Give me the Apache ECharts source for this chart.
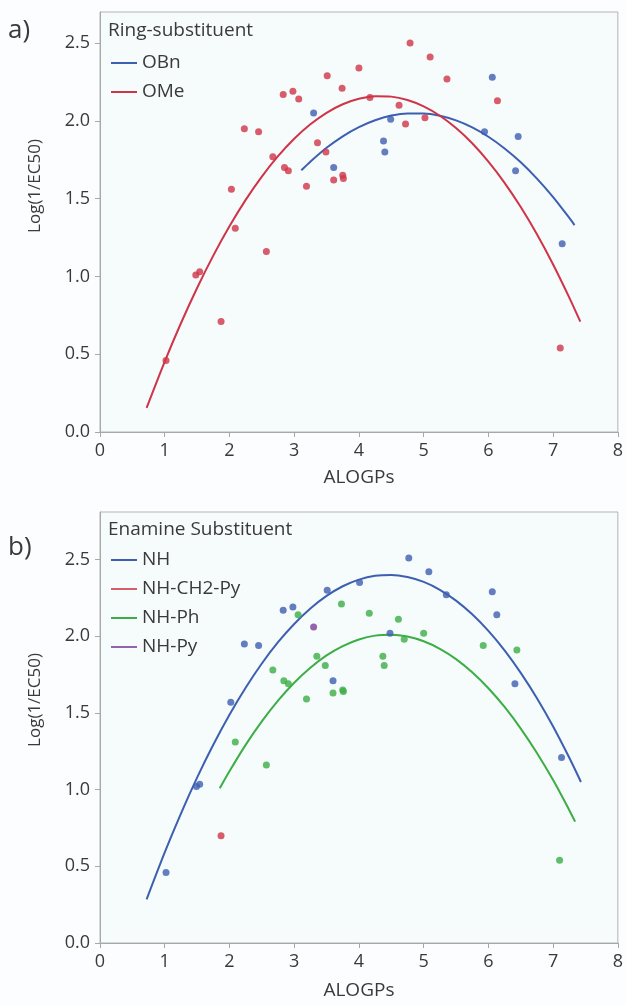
<!DOCTYPE html>
<html>
<head>
<meta charset="utf-8">
<script src="https://cdn.jsdelivr.net/npm/echarts@6/dist/echarts.min.js"></script>
<style>
html, body { margin: 0; padding: 0; background: #fbfdfe; }
#chart { width: 626px; height: 1005px; }
</style>
</head>
<body>
<div id="chart"></div>
<script>
var chart = echarts.init(document.getElementById('chart'));

// x ticks and y ticks shared by both panels
var xTicks = [0, 1, 2, 3, 4, 5, 6, 7, 8];
var yTicks = [0, 0.5, 1, 1.5, 2, 2.5];

// panel a) ring substituent
var obnPoints = [[3.30,2.05],[3.61,1.70],[4.38,1.87],[4.40,1.80],[4.49,2.01],[5.94,1.93],[6.06,2.28],[6.42,1.68],[6.46,1.90],[7.14,1.21]];
var omePoints = [[1.02,0.46],[1.48,1.01],[1.54,1.03],[1.87,0.71],[2.03,1.56],[2.09,1.31],[2.23,1.95],[2.45,1.93],[2.57,1.16],[2.67,1.77],
  [2.83,2.17],[2.85,1.70],[2.91,1.68],[2.98,2.19],[3.07,2.14],[3.19,1.58],[3.36,1.86],[3.49,1.80],[3.51,2.29],[3.61,1.62],
  [3.74,2.21],[3.75,1.65],[3.76,1.63],[4.00,2.34],[4.17,2.15],[4.62,2.10],[4.72,1.98],[4.79,2.50],[5.02,2.02],[5.10,2.41],
  [5.36,2.27],[6.14,2.13],[7.11,0.54]];
// fit curves a) (traced along the drawn curves)
var obnFitX = [3.11, 3.25, 3.5, 3.75, 4, 4.25, 4.5, 4.75, 5, 5.25, 5.5, 5.75, 6, 6.25, 6.5, 6.75, 7, 7.25, 7.33];
var obnFitY = [1.683, 1.738, 1.827, 1.901, 1.960, 2.004, 2.034, 2.048, 2.048, 2.033, 2.003, 1.958, 1.898, 1.823, 1.734, 1.629, 1.510, 1.376, 1.330];
var omeFitX = [0.72, 1, 1.25, 1.5, 1.75, 2, 2.25, 2.5, 2.75, 3, 3.25, 3.5, 3.75, 4, 4.25, 4.5, 4.75, 5, 5.25, 5.5, 5.75, 6, 6.25, 6.5, 6.75, 7, 7.25, 7.42];
var omeFitY = [0.155, 0.453, 0.699, 0.926, 1.134, 1.322, 1.492, 1.642, 1.773, 1.885, 1.978, 2.052, 2.107, 2.142, 2.159, 2.156, 2.134, 2.093, 2.033, 1.954, 1.856, 1.738, 1.602, 1.446, 1.271, 1.077, 0.864, 0.709];

// panel b) enamine substituent
var nhPoints = [[1.02,0.46],[1.49,1.02],[1.54,1.035],[2.02,1.57],[2.23,1.95],[2.45,1.94],[2.83,2.17],[2.98,2.19],[3.51,2.30],[3.60,1.71],
  [4.01,2.35],[4.48,2.02],[4.77,2.51],[5.08,2.42],[5.35,2.27],[6.06,2.29],[6.13,2.14],[6.41,1.69],[7.13,1.21]];
var nhCh2PyPoints = [[1.87,0.70]];
var nhPhPoints = [[2.09,1.31],[2.57,1.16],[2.67,1.78],[2.84,1.71],[2.91,1.69],[3.06,2.14],[3.19,1.59],[3.35,1.87],[3.48,1.81],[3.60,1.63],
  [3.73,2.21],[3.75,1.65],[3.76,1.64],[4.16,2.15],[4.37,1.87],[4.39,1.81],[4.61,2.11],[4.70,1.98],[5.00,2.02],[5.92,1.94],
  [6.44,1.91],[7.10,0.54]];
var nhPyPoints = [[3.30,2.06]];
// fit curves b)
var nhFitX = [0.72, 1, 1.25, 1.5, 1.75, 2, 2.25, 2.5, 2.75, 3, 3.25, 3.5, 3.75, 4, 4.25, 4.5, 4.75, 5, 5.25, 5.5, 5.75, 6, 6.25, 6.5, 6.75, 7, 7.25, 7.43];
var nhFitY = [0.285, 0.591, 0.844, 1.078, 1.292, 1.488, 1.664, 1.822, 1.961, 2.080, 2.181, 2.263, 2.326, 2.369, 2.394, 2.400, 2.386, 2.354, 2.303, 2.232, 2.143, 2.035, 1.908, 1.761, 1.596, 1.412, 1.208, 1.050];
var nhPhFitX = [1.85, 2, 2.25, 2.5, 2.75, 3, 3.25, 3.5, 3.75, 4, 4.25, 4.5, 4.75, 5, 5.25, 5.5, 5.75, 6, 6.25, 6.5, 6.75, 7, 7.25, 7.34];
var nhPhFitY = [1.009, 1.120, 1.292, 1.445, 1.580, 1.697, 1.795, 1.875, 1.936, 1.979, 2.004, 2.010, 1.998, 1.967, 1.918, 1.851, 1.765, 1.661, 1.539, 1.398, 1.239, 1.062, 0.866, 0.791];

var BLUE = '#3d5fb0', RED = '#cf3447', GREEN = '#3cae45', PURPLE = '#7b3f99';
var FONT = '"Open Sans", "Noto Sans", sans-serif';
var TXT = '#3a3a3a';
var AXIS = '#a8a8a8';

function pairs(xs, ys) {
  return xs.map(function (x, i) { return [x, ys[i]]; });
}

function xAxis(idx, gap) {
  return {
    type: 'value', gridIndex: idx, min: 0, max: 8,
    name: 'ALOGPs', nameLocation: 'middle', nameGap: gap,
    nameTextStyle: { fontFamily: FONT, fontSize: 19, color: TXT },
    axisLine: { lineStyle: { color: AXIS } },
    axisTick: { show: true, length: 5, customValues: xTicks, lineStyle: { color: AXIS } },
    axisLabel: { customValues: xTicks, fontFamily: FONT, fontSize: 18, color: TXT, margin: 10 },
    splitLine: { show: false }
  };
}

function yAxis(idx, max) {
  return {
    type: 'value', gridIndex: idx, min: 0, max: max,
    axisLine: { show: true, lineStyle: { color: AXIS } },
    axisTick: { show: true, length: 5, customValues: yTicks, lineStyle: { color: AXIS } },
    axisLabel: { customValues: yTicks, fontFamily: FONT, fontSize: 18, color: TXT, margin: 10,
      formatter: function (v) { return v.toFixed(1); } },
    splitLine: { show: false }
  };
}

function scatter(name, data, color, idx) {
  return { name: name, type: 'scatter', xAxisIndex: idx, yAxisIndex: idx, data: data,
    symbolSize: 7, itemStyle: { color: color }, z: 3 };
}

function fit(name, xs, ys, color, idx) {
  return { name: name, type: 'line', xAxisIndex: idx, yAxisIndex: idx, data: pairs(xs, ys),
    smooth: 0.3, showSymbol: false, lineStyle: { color: color, width: 2 }, itemStyle: { color: color } };
}

var legendBase = {
  orient: 'vertical', icon: 'rect', itemWidth: 26, itemHeight: 2, itemGap: 7,
  textStyle: { fontFamily: FONT, fontSize: 19, color: TXT, lineHeight: 22 },
  selectedMode: false
};

function label(text, x, y, size, rot) {
  return { type: 'text', x: x, y: y, rotation: rot || 0,
    style: { text: text, fontFamily: FONT, fontSize: size, fill: TXT,
      align: rot ? 'center' : 'left', verticalAlign: 'middle' } };
}

var option = {
  backgroundColor: '#fbfdfe',
  animation: false,
  grid: [
    { left: 100, top: 12, width: 522, height: 420, show: true, backgroundColor: '#f6fbfc', borderColor: '#b4b4b4', borderWidth: 1 },
    { left: 100, top: 512, width: 522, height: 431, show: true, backgroundColor: '#f6fbfc', borderColor: '#b4b4b4', borderWidth: 1 }
  ],
  xAxis: [xAxis(0, 36), xAxis(1, 38)],
  yAxis: [yAxis(0, 2.7), yAxis(1, 2.81)],
  legend: [
    Object.assign({ left: 106, top: 47, data: ['OBn', 'OMe'] }, legendBase),
    Object.assign({ left: 106, top: 544, data: ['NH', 'NH-CH2-Py', 'NH-Ph', 'NH-Py'] }, legendBase)
  ],
  graphic: [
    label('a)', 8, 31, 26),
    label('b)', 8, 548, 26),
    label('Ring-substituent', 108, 31, 19),
    label('Enamine Substituent', 108, 530, 19),
    label('Log(1/EC50)', 35, 186, 17, Math.PI / 2),
    label('Log(1/EC50)', 35, 700, 17, Math.PI / 2)
  ],
  series: [
    fit('OBn', obnFitX, obnFitY, BLUE, 0),
    fit('OMe', omeFitX, omeFitY, RED, 0),
    scatter('OBn', obnPoints, BLUE, 0),
    scatter('OMe', omePoints, RED, 0),
    fit('NH', nhFitX, nhFitY, BLUE, 1),
    fit('NH-Ph', nhPhFitX, nhPhFitY, GREEN, 1),
    scatter('NH', nhPoints, BLUE, 1),
    scatter('NH-CH2-Py', nhCh2PyPoints, RED, 1),
    scatter('NH-Ph', nhPhPoints, GREEN, 1),
    scatter('NH-Py', nhPyPoints, PURPLE, 1)
  ]
};

chart.setOption(option);

window.onresize = chart.resize;
</script>
</body>
</html>
